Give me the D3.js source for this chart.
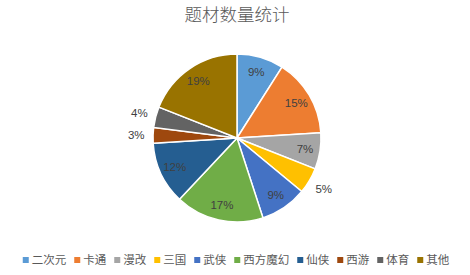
<!DOCTYPE html>
<html>
<head>
    <meta charset="utf-8">
    <style>
        body { margin: 0; background: #fff; }
        svg { display: block; font-family: "Noto Sans CJK SC", sans-serif; }
    </style>
</head>
<body>
    <svg width="470" height="275"></svg>

<script src="https://d3js.org/d3.v7.min.js"></script>
<script>
    // data
    let categories = ["二次元", "卡通", "漫改", "三国", "武侠", "西方魔幻", "仙侠", "西游", "体育", "其他"]
    let values = [9, 15, 7, 5, 9, 17, 12, 3, 4, 19]
    let colors = ["#5B9BD5", "#ED7D31", "#A5A5A5", "#FFC000", "#4472C4", "#70AD47", "#255E91", "#9E480E", "#636363", "#997300"]
    let outside = ["三国", "西游", "体育"]

    let width = 470
    let height = 275
    let cx = 237, cy = 138, radius = 84

    let svg = d3.select("svg")

    svg.append("text")
        .attr("x", 237)
        .attr("y", 21)
        .attr("text-anchor", "middle")
        .style("font-size", "17.5px")
        .style("font-weight", 300)
        .style("fill", "#595959")
        .text("题材数量统计")

    let rows = categories.map((c, i) => ({ name: c, value: values[i], color: colors[i] }))
    let total = d3.sum(values)

    let pie = d3.pie().sort(null).value(d => d.value)
    let arcs = pie(rows)

    let arc = d3.arc().innerRadius(0).outerRadius(radius)
    let inLabel = d3.arc().innerRadius(radius * 0.82).outerRadius(radius * 0.82)
    let outLabel = d3.arc().innerRadius(radius * 1.2).outerRadius(radius * 1.2)

    let g = svg.append("g").attr("transform", `translate(${cx},${cy})`)

    g.selectAll("path")
        .data(arcs)
        .join("path")
        .attr("d", arc)
        .style("fill", d => d.data.color)
        .style("stroke", "#fff")
        .style("stroke-width", 1.5)

    g.selectAll(".lbl")
        .data(arcs)
        .join("text")
        .attr("class", "lbl")
        .attr("transform", d => {
            let a = outside.includes(d.data.name) ? outLabel : inLabel
            return `translate(${a.centroid(d)})`
        })
        .attr("text-anchor", "middle")
        .attr("dy", "0.35em")
        .style("font-size", "11.5px")
        .style("font-family", "'Liberation Sans', sans-serif")
        .style("fill", "#404040")
        .text(d => Math.round(d.data.value / total * 100) + "%")

    // legend
    let legend = svg.append("g")
    let x = 0
    rows.forEach(d => {
        let item = legend.append("g").attr("transform", `translate(${x},0)`)
        item.append("rect")
            .attr("x", 0).attr("y", -3)
            .attr("width", 6).attr("height", 6)
            .style("fill", d.color)
        let t = item.append("text")
            .attr("x", 9)
            .attr("dy", "0.35em")
            .style("font-size", "11.5px")
            .style("fill", "#595959")
            .text(d.name)
        x += 9 + t.node().getComputedTextLength() + 8
    })
    let lw = x - 8
    legend.attr("transform", `translate(${(width - lw) / 2 + 1},260)`)
</script>
</body>
</html>
